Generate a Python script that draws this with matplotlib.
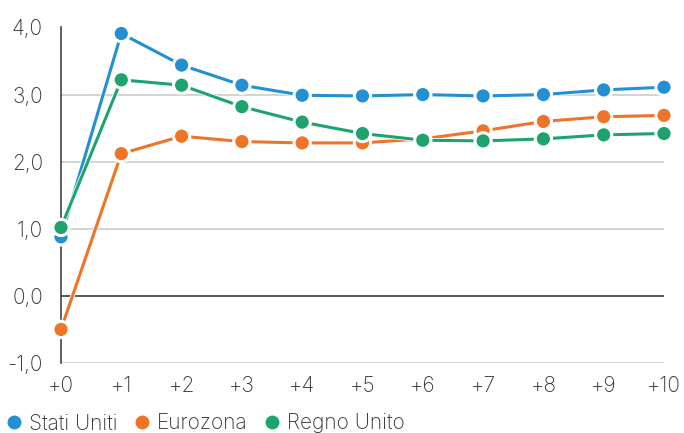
import matplotlib
matplotlib.use("Agg")
import matplotlib.pyplot as plt
import matplotlib.patheffects as pe

plt.rcParams['font.family'] = ['Inter', 'DejaVu Sans']
plt.rcParams['font.weight'] = 'light'

x_labels = ["+0", "+1", "+2", "+3", "+4", "+5", "+6", "+7", "+8", "+9", "+10"]
stati_uniti = [0.88, 3.91, 3.44, 3.14, 2.99, 2.98, 3.00, 2.98, 3.00, 3.07, 3.11]
eurozona = [-0.50, 2.12, 2.38, 2.30, 2.28, 2.28, 2.34, 2.46, 2.60, 2.67, 2.69]
regno_unito = [1.02, 3.22, 3.14, 2.82, 2.59, 2.42, 2.32, 2.31, 2.34, 2.40, 2.42]

series = [
    ("Stati Uniti", stati_uniti, "#2290d3"),
    ("Eurozona", eurozona, "#ee7428"),
    ("Regno Unito", regno_unito, "#1fa36e"),
]

y_ticks = [-1, 0, 1, 2, 3, 4]
y_labels = ["-1,0", "0,0", "1,0", "2,0", "3,0", "4,0"]

fig = plt.figure(figsize=(6.84, 4.33), dpi=100)
ax = fig.add_axes([61 / 684, 1 - 363 / 433, (664 - 61) / 684, (363 - 27.5) / 433])

xs = list(range(len(x_labels)))
handles = []
for name, vals, col in series:
    h, = ax.plot(xs, vals, color=col, lw=2.2, marker="o", ms=10.5,
                 markeredgecolor="white", markeredgewidth=1.0, label=name,
                 clip_on=False, zorder=3,
                 path_effects=[pe.Stroke(linewidth=3.4, foreground="white"), pe.Normal()])
    handles.append(h)

ax.set_xlim(0, 10)
ax.set_ylim(-1, 4)
ax.set_yticks(y_ticks)
ax.set_yticklabels(y_labels)
ax.set_xticks(xs)
ax.set_xticklabels(x_labels)

ax.grid(axis="y", color="#cccccc", lw=1.2)
ax.axhline(0, color="#444444", lw=1.2, zorder=2)
ax.set_axisbelow(True)
for s in ["top", "right", "bottom"]:
    ax.spines[s].set_visible(False)
ax.spines["left"].set_color("#444444")
ax.spines["left"].set_linewidth(1.2)

ax.tick_params(axis="both", length=0, labelsize=15, colors="#333333")
ax.tick_params(axis="y", pad=13)
ax.tick_params(axis="x", pad=9)

leg = fig.legend(handles=handles, loc="lower left", bbox_to_anchor=(0.0, -0.02),
                 ncol=3, frameon=False, fontsize=15, handlelength=0.55,
                 handletextpad=0.45, columnspacing=0.9, borderaxespad=0.0)
for t in leg.get_texts():
    t.set_color("#333333")
for lh in leg.legend_handles:
    lh.set_linestyle("none")
    lh.set_markersize(11)
    lh.set_path_effects([])

fig.savefig("out.png", dpi=100)
